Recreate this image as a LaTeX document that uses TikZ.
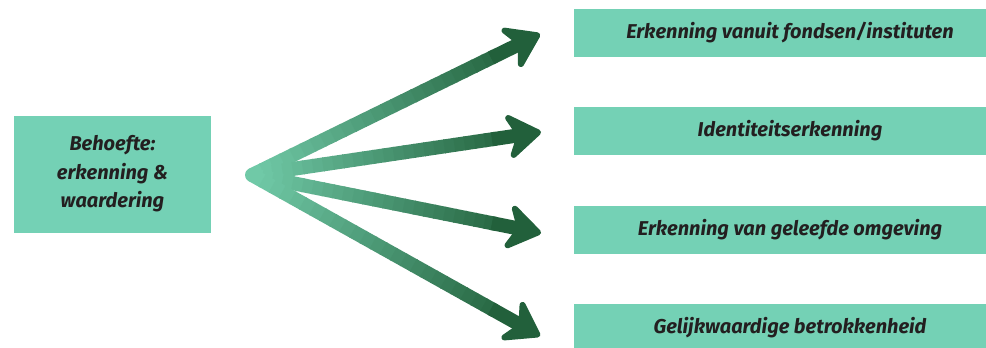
\documentclass[tikz,border=0pt]{standalone}
\usepackage{fontspec}
\setmainfont{Fira Sans}
\usetikzlibrary{arrows.meta,calc}
\definecolor{boxc}{HTML}{74D1B5}
\definecolor{lightg}{HTML}{70C9A7}
\definecolor{darkg}{HTML}{22603B}
\definecolor{txt}{HTML}{231F20}
\tikzset{
  box/.style={fill=boxc, draw=none, inner sep=0pt, font=\fontsize{20}{28.5}\selectfont\bfseries\itshape, text=txt, align=center},
  headtip/.style={-{Stealth[length=40pt,width=54pt,inset=13pt,line width=6pt,round]}},
  shaft/.style={line width=14pt, line cap=butt},
}
\begin{document}
\begin{tikzpicture}[x=1pt,y=-1pt]
\useasboundingbox (0,0) rectangle (986,348);
\clip (0,0) rectangle (986,348);
\node[box, minimum width=197pt, minimum height=117pt] (src) at (112.5,174) {Behoefte:\\erkenning \&\\waardering};
\node[box, minimum width=432pt, minimum height=48pt] (t1) at (790,33) {\raisebox{-2pt}{Erkenning vanuit fondsen/instituten}};
\node[box, minimum width=432pt, minimum height=48pt] (t2) at (790,131) {\raisebox{-2pt}{Identiteitserkenning}};
\node[box, minimum width=432pt, minimum height=48pt] (t3) at (790,230) {\raisebox{-2pt}{Erkenning van geleefde omgeving}};
\node[box, minimum width=432pt, minimum height=48pt] (t4) at (790,328) {\raisebox{-2pt}{Gelijkwaardige betrokkenheid}};
\coordinate (o) at (252,175);
\coordinate (p1) at (540,34);
\coordinate (p2) at (541,132);
\coordinate (p3) at (541,233);
\coordinate (p4) at (540,336);
\foreach \p in {p1,p2,p3,p4}{
  \foreach \i in {0,...,23}{
    \pgfmathsetmacro\a{\i/24*0.84}
    \pgfmathsetmacro\b{(\i+1)/24*0.84+0.004}
    \pgfmathsetmacro\c{\i/23*90}
    \draw[shaft, color=darkg!\c!lightg] ($(o)!\a!(\p)$) -- ($(o)!\b!(\p)$);
  }
  \draw[shaft, headtip, darkg] ($(o)!0.83!(\p)$) -- (\p);
}
\fill[lightg] (o) circle (7pt);
\end{tikzpicture}
\end{document}
